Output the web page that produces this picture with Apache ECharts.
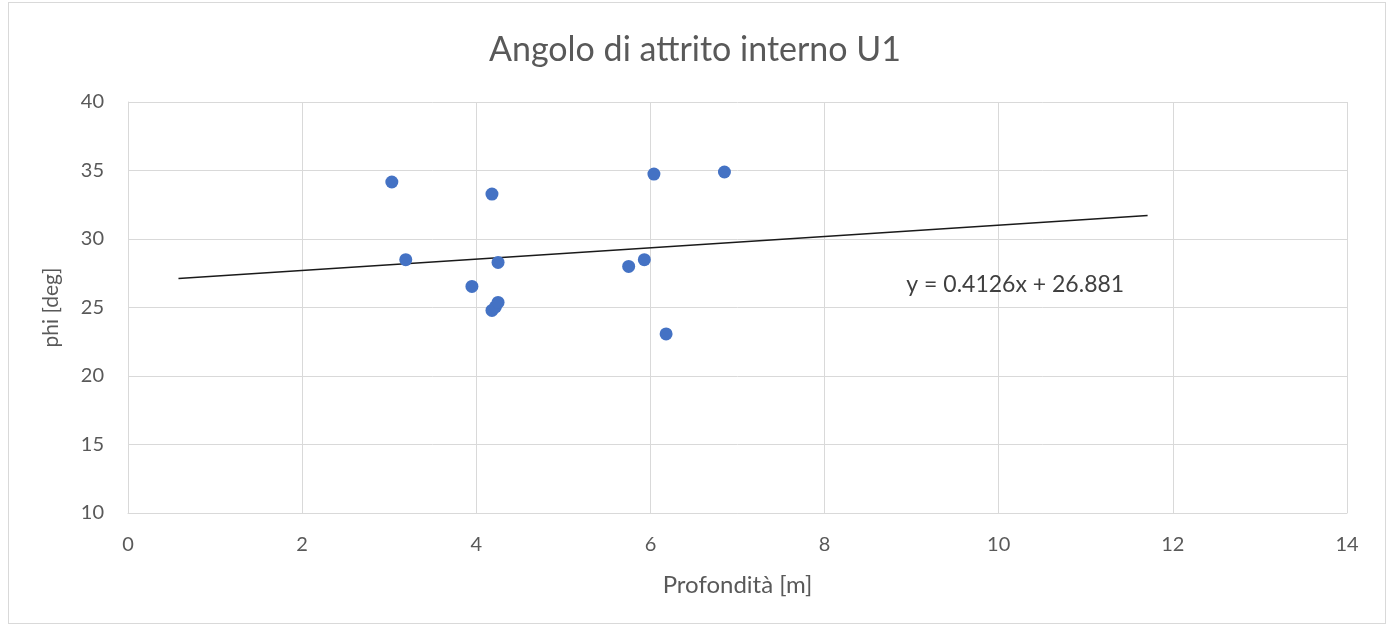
<!DOCTYPE html>
<html>
<head>
<meta charset="utf-8">
<script src="https://cdn.jsdelivr.net/npm/echarts@6/dist/echarts.min.js"></script>
<style>
html,body{margin:0;padding:0;background:#fff;}
#frame{position:absolute;left:8px;top:2px;width:1378px;height:622px;border:1px solid #d9d9d9;box-sizing:border-box;}
#chart{position:absolute;left:0;top:0;width:1390px;height:629px;}
</style>
</head>
<body>
<div id="frame"></div>
<div id="chart"></div>
<script>
const titleText = "Angolo di attrito interno U1";
const xAxisName = "Profondità [m]";
const yAxisName = "phi [deg]";
const depth = [3.03, 3.19, 3.95, 4.18, 4.25, 4.18, 4.22, 4.25, 5.75, 5.93, 6.04, 6.18, 6.85];
const phi   = [34.16, 28.49, 26.54, 33.28, 28.29, 24.79, 25.05, 25.37, 28.00, 28.49, 34.74, 23.07, 34.89];
const trendSlope = 0.4126;
const trendIntercept = 26.881;
const trendX = [0.58, 11.71];
const trendLabel = "y = 0.4126x + 26.881";

const points = depth.map((d, i) => [d, phi[i]]);
const trend = trendX.map(x => [x, trendSlope * x + trendIntercept]);

const font = "Lato, 'Open Sans', sans-serif";
const chart = echarts.init(document.getElementById('chart'));
chart.setOption({
  animation: false,
  title: {
    text: titleText, left: 'center', top: 28,
    textStyle: {fontFamily: font, fontSize: 34, fontWeight: 'normal', color: '#595959'}
  },
  grid: {left: 128, right: 43, top: 102, bottom: 116},
  xAxis: {
    type: 'value', min: 0, max: 14, interval: 2,
    name: xAxisName, nameLocation: 'middle', nameGap: 60,
    nameTextStyle: {fontFamily: font, fontSize: 24, color: '#595959'},
    axisLine: {show: true, lineStyle: {color: '#d9d9d9'}},
    axisTick: {show: false},
    axisLabel: {fontFamily: font, fontSize: 20, color: '#595959', margin: 22},
    splitLine: {show: true, lineStyle: {color: '#d9d9d9', width: 1}}
  },
  yAxis: {
    type: 'value', min: 10, max: 40, interval: 5,
    name: yAxisName, nameLocation: 'middle', nameGap: 66, nameRotate: 90,
    nameTextStyle: {fontFamily: font, fontSize: 21, color: '#595959'},
    axisLine: {show: true, lineStyle: {color: '#d9d9d9'}},
    axisTick: {show: false},
    axisLabel: {fontFamily: font, fontSize: 20, color: '#595959', margin: 24},
    splitLine: {show: true, lineStyle: {color: '#d9d9d9', width: 1}}
  },
  series: [
    {
      type: 'scatter', data: points, symbolSize: 13,
      itemStyle: {color: '#4472C4', opacity: 1}, z: 3
    },
    {
      type: 'line', data: trend, showSymbol: false, symbol: 'none',
      lineStyle: {color: '#1a1a1a', width: 1.6}, z: 2,
      markPoint: {
        symbol: 'rect', symbolSize: 0,
        data: [{coord: [10.19, 26.64]}],
        label: {show: true, formatter: trendLabel, fontFamily: font, fontSize: 23, color: '#404040', position: 'inside'}
      }
    }
  ]
});
</script>
</body>
</html>
